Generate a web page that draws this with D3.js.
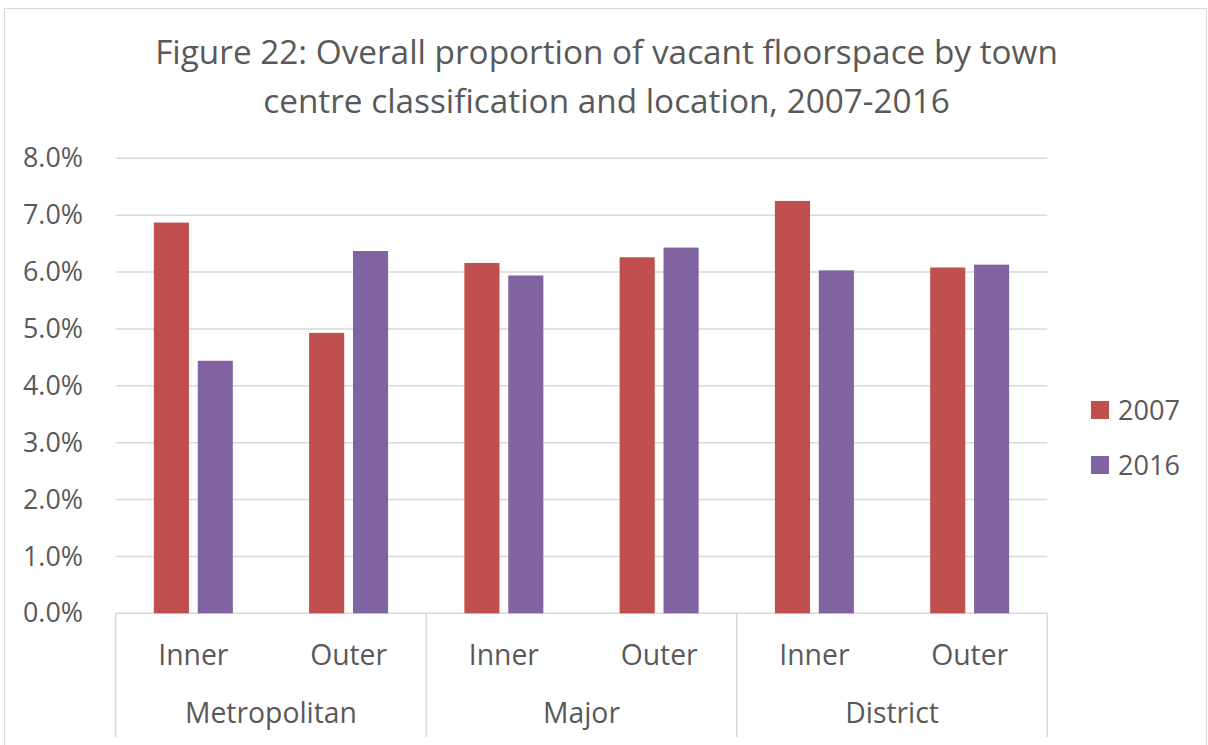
<!DOCTYPE html>
<meta charset="utf-8">
<script src="https://d3js.org/d3.v7.min.js"></script>
<style>
  body { margin: 0; background: #fff; }
  text { font-family: "Open Sans", sans-serif; fill: #595959; }
</style>
<body>
<script>

var groups    = ["Metropolitan", "Major", "District"];
var locations = ["Inner", "Outer"];
var series    = ["2007", "2016"];
var values2007 = [0.0687, 0.0493, 0.0616, 0.0626, 0.0725, 0.0608];
var values2016 = [0.0444, 0.0637, 0.0594, 0.0643, 0.0603, 0.0613];
var yTicks = [0, 0.01, 0.02, 0.03, 0.04, 0.05, 0.06, 0.07, 0.08];
var titleLines = ["Figure 22: Overall proportion of vacant floorspace by town",
                  "centre classification and location, 2007-2016"];

var colors = d3.scaleOrdinal().domain(series).range(["#C0504D", "#8064A2"]);

// build the category table: one entry per group/location pair
var cats = [];
groups.forEach(function(g) {
  locations.forEach(function(l) { cats.push({ key: g + "|" + l, group: g, loc: l }); });
});
cats.forEach(function(c, i) {
  c.values = [{ s: "2007", v: values2007[i] }, { s: "2016", v: values2016[i] }];
});

var W = 1208, H = 745;
var plot = { left: 115.7, right: 1047.3, top: 158.3, bottom: 613.3 };

var svg = d3.select("body").append("svg")
  .attr("width", W).attr("height", H);

// measure a string to pick a font size that matches the reference width
function fitSize(str, target) {
  var t = svg.append("text").style("font-size", "100px").text(str);
  var w = t.node().getComputedTextLength();
  t.remove();
  return 100 * target / w;
}
var titleSize = fitSize(titleLines[0], 903);
var tickSize  = fitSize("8.0%", 60);
var catSize   = fitSize("Metropolitan", 172);
var legSize   = fitSize("2007", 62);

// outer chart border
svg.append("rect")
  .attr("x", 4.5).attr("y", 8.5)
  .attr("width", W - 6).attr("height", H)
  .attr("fill", "none").attr("stroke", "#D9D9D9");

var y = d3.scaleLinear().domain([0, 0.08]).range([plot.bottom, plot.top]);
var x0 = d3.scaleBand().domain(cats.map(function(d) { return d.key; }))
  .range([plot.left, plot.right]).padding(0);
var bw = x0.bandwidth();
var x1 = d3.scaleBand().domain(series)
  .range([bw / 2 - 39.5, bw / 2 + 39.5]).paddingInner(0.2).paddingOuter(0);
var xg = d3.scaleBand().domain(groups).range([plot.left, plot.right]).padding(0);

// gridlines
svg.append("g").selectAll("line")
  .data(yTicks).enter().append("line")
  .attr("x1", plot.left).attr("x2", plot.right)
  .attr("y1", function(d) { return y(d); }).attr("y2", function(d) { return y(d); })
  .attr("stroke", "#D9D9D9").attr("stroke-width", 1.5);

// y axis labels
var yAxis = d3.axisLeft(y).tickValues(yTicks).tickFormat(d3.format(".1%")).tickSize(0).tickPadding(0);
var ya = svg.append("g")
  .attr("transform", "translate(83,0)")
  .call(yAxis);
ya.select(".domain").remove();
ya.selectAll("text").style("font-size", tickSize + "px").attr("fill", "#595959");

// bars
var slice = svg.selectAll(".slice")
  .data(cats).enter().append("g")
  .attr("class", "slice")
  .attr("transform", function(d) { return "translate(" + x0(d.key) + ",0)"; });

slice.selectAll("rect")
  .data(function(d) { return d.values; })
  .enter().append("rect")
  .attr("x", function(d) { return x1(d.s); })
  .attr("width", x1.bandwidth())
  .attr("y", function(d) { return y(d.v); })
  .attr("height", function(d) { return y(0) - y(d.v); })
  .attr("fill", function(d) { return colors(d.s); });

// category axis: location labels
var xAxis = d3.axisBottom(x0).tickSize(0).tickPadding(0)
  .tickFormat(function(k) { return k.split("|")[1]; });
var xa = svg.append("g")
  .attr("transform", "translate(0," + plot.bottom + ")")
  .call(xAxis);
xa.select(".domain").remove();
xa.selectAll("text")
  .attr("y", 665 - plot.bottom).attr("dy", null)
  .style("font-size", catSize + "px").attr("fill", "#595959");

// group dividers
var bounds = groups.map(function(g) { return xg(g); }).concat([plot.right]);
svg.append("g").selectAll("line")
  .data(bounds).enter().append("line")
  .attr("x1", function(d) { return d; }).attr("x2", function(d) { return d; })
  .attr("y1", plot.bottom).attr("y2", 737)
  .attr("stroke", "#D9D9D9").attr("stroke-width", 1.5);

// group labels
svg.append("g").selectAll("text")
  .data(groups).enter().append("text")
  .attr("x", function(d) { return xg(d) + xg.bandwidth() / 2; })
  .attr("y", 723)
  .attr("text-anchor", "middle")
  .style("font-size", catSize + "px")
  .text(function(d) { return d; });

// legend
var leg = svg.append("g").selectAll("g")
  .data(series).enter().append("g")
  .attr("transform", function(d, i) { return "translate(1091," + (401 + i * 55) + ")"; });
leg.append("rect")
  .attr("width", 18).attr("height", 18)
  .attr("fill", function(d) { return colors(d); });
leg.append("text")
  .attr("x", 27).attr("y", 9).attr("dy", "0.36em")
  .style("font-size", legSize + "px")
  .text(function(d) { return d; });

// title
svg.append("g").selectAll("text")
  .data(titleLines).enter().append("text")
  .attr("x", 606.5)
  .attr("y", function(d, i) { return 64 + i * 48.5; })
  .attr("text-anchor", "middle")
  .style("font-size", titleSize + "px")
  .text(function(d) { return d; });
</script>
</body>
